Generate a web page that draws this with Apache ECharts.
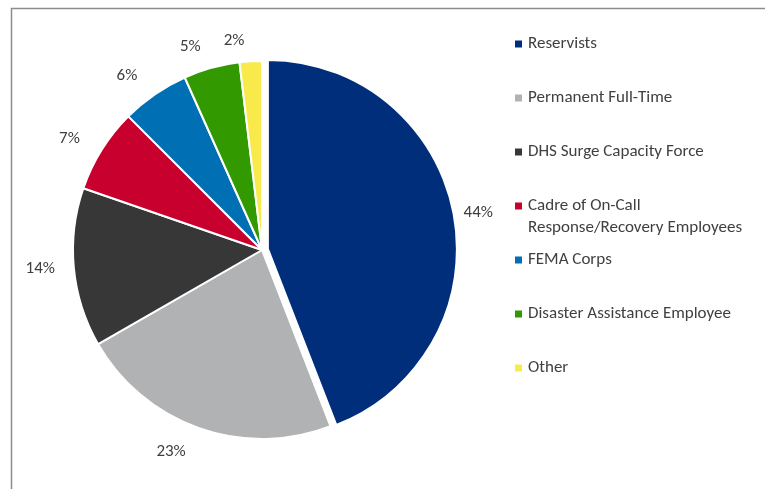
<!DOCTYPE html>
<html><head><meta charset="utf-8">
<script src="https://cdn.jsdelivr.net/npm/echarts@6/dist/echarts.min.js"></script>
<style>html,body{margin:0;padding:0;background:#fff}#c{width:765px;height:489px}</style>
</head><body><div id="c"></div>
<script>
var categories = ['Reservists','Permanent Full-Time','DHS Surge Capacity Force','Cadre of On-Call\nResponse/Recovery Employees','FEMA Corps','Disaster Assistance Employee','Other'];
var values = [44.1, 22.6, 13.6, 7.2, 5.8, 4.8, 1.9];
var colors = ['#002E7B','#B1B2B4','#373737','#C8002D','#006FB3','#339900','#F7EA4A'];
var labelGaps = [5, 25, 14, 20, 22, 22, 21];

var FONT = 'Calibri, Carlito, Lato, sans-serif';
var FS = 17;
var chart = echarts.init(document.getElementById('c'));
var legends = categories.map(function (name, i) {
  var multi = name.indexOf('\n') >= 0;
  return {
    orient: 'vertical', left: 508, top: 28 + i * 54 - (multi ? 22 : 0),
    data: [name], icon: 'rect', itemWidth: 9, itemHeight: 9, itemGap: 0,
    selectedMode: false,
    formatter: function (n) {
      if (n.indexOf('\n') < 0) return n;
      return '{e| }\n' + n.split('\n').map(function (s) { return '{a|' + s + '}'; }).join('\n');
    },
    textStyle: { fontFamily: FONT, fontSize: FS, color: '#404040', lineHeight: 22,
      rich: { e: { lineHeight: 22, fontSize: FS }, a: { fontFamily: FONT, fontSize: FS, color: '#404040', lineHeight: 22 } } }
  };
});
chart.setOption({
  animation: false,
  color: colors,
  graphic: [{ type: 'polyline', silent: true,
    shape: { points: [[11.5, 489], [11.5, 8.5], [765, 8.5]] },
    style: { stroke: '#8C8C8C', lineWidth: 1.5, fill: null } }],
  legend: legends,
  series: [{
    type: 'pie', center: [262, 250], radius: 189, startAngle: 90, clockwise: true,
    selectedMode: 'single', selectedOffset: 6, avoidLabelOverlap: false,
    itemStyle: { borderColor: '#fff', borderWidth: 2 },
    label: { position: 'outside', fontFamily: FONT, fontSize: FS, color: '#404040', padding: [6, 0, 0, 0],
      formatter: function (p) { return Math.round(p.value) + '%'; } },
    labelLine: { show: false, length: 14, length2: 0 },
    emphasis: { disabled: true },
    data: categories.map(function (n, i) {
      var item = { name: n, value: values[i], selected: i === 0, labelLine: { show: false, length: labelGaps[i], length2: 0 } };
      if (i === 0) item.label = { padding: 0 };
      return item;
    })
  }]
});
</script></body></html>
